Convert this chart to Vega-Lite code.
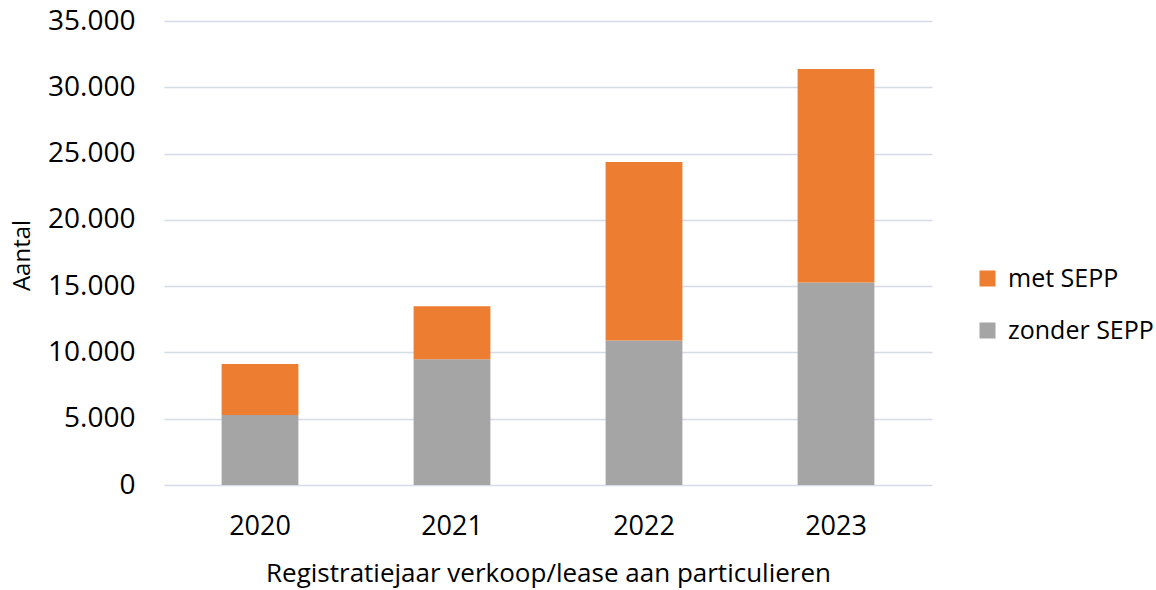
{
  "$schema": "https://vega.github.io/schema/vega-lite/v6.json",
  "autosize": "none",
  "width": 768,
  "height": 464,
  "padding": {"left": 164, "top": 21, "right": 224, "bottom": 105},
  "background": "white",
  "config": {
    "locale": {"number": {"decimal": ",", "thousands": ".", "grouping": [3], "currency": ["€", ""]}},
    "font": "Open Sans",
    "view": {"stroke": null}
  },
  "data": {
    "values": [
      {"jaar": "2020", "type": "zonder SEPP", "aantal": 5284},
      {"jaar": "2020", "type": "met SEPP", "aantal": 3850},
      {"jaar": "2021", "type": "zonder SEPP", "aantal": 9487},
      {"jaar": "2021", "type": "met SEPP", "aantal": 4001},
      {"jaar": "2022", "type": "zonder SEPP", "aantal": 10896},
      {"jaar": "2022", "type": "met SEPP", "aantal": 13462},
      {"jaar": "2023", "type": "zonder SEPP", "aantal": 15275},
      {"jaar": "2023", "type": "met SEPP", "aantal": 16104}
    ]
  },
  "mark": {"type": "bar"},
  "encoding": {
    "x": {
      "field": "jaar",
      "type": "nominal",
      "scale": {"paddingInner": 0.6, "paddingOuter": 0.3},
      "axis": {
        "labelAngle": 0,
        "labelFontSize": 27,
        "labelColor": "#000000",
        "labelPadding": 28,
        "ticks": false,
        "domain": false,
        "title": "Registratiejaar verkoop/lease aan particulieren",
        "titleFontSize": 26,
        "titleFontWeight": "normal",
        "titleColor": "#000000",
        "titleBaseline": "middle",
        "titleY": 88
      }
    },
    "y": {
      "field": "aantal",
      "type": "quantitative",
      "stack": "zero",
      "scale": {"domain": [0, 35000]},
      "axis": {
        "values": [0, 5000, 10000, 15000, 20000, 25000, 30000, 35000],
        "format": ",d",
        "labelFontSize": 28,
        "labelColor": "#000000",
        "labelPadding": 29,
        "ticks": false,
        "domain": false,
        "grid": true,
        "gridColor": "#d6dce5",
        "gridWidth": 1.5,
        "title": "Aantal",
        "titleFontSize": 24,
        "titleFontWeight": "normal",
        "titleColor": "#000000",
        "titleAngle": -90,
        "titleBaseline": "middle",
        "titleX": -142,
        "titleY": 234
      }
    },
    "color": {
      "field": "type",
      "type": "nominal",
      "scale": {"domain": ["met SEPP", "zonder SEPP"], "range": ["#ED7D31", "#A5A5A5"]},
      "legend": {
        "title": null,
        "orient": "none",
        "legendX": 811,
        "legendY": 245,
        "symbolType": "square",
        "symbolSize": 256,
        "symbolStrokeWidth": 0,
        "labelFontSize": 25,
        "labelColor": "#000000",
        "rowPadding": 26,
        "labelOffset": 8
      }
    },
    "order": {"field": "type", "sort": "descending"}
  }
}
